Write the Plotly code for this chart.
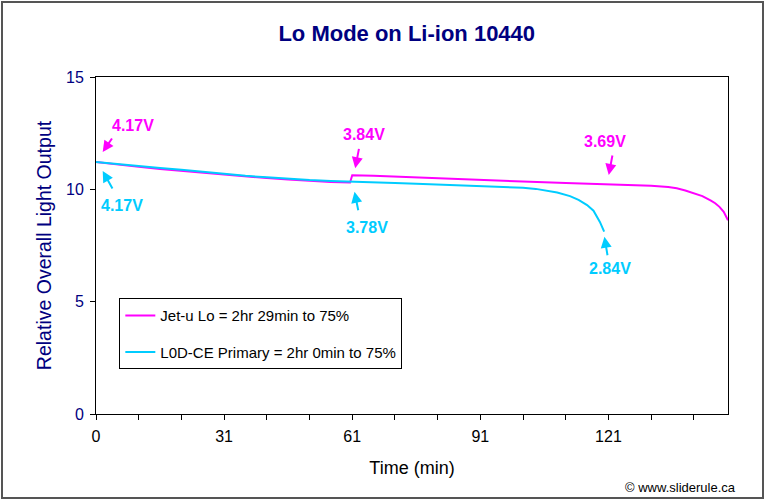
import plotly.graph_objects as go

# ---- data ----
jet_t = [0, 5, 10, 15, 20, 25, 30, 35, 40, 45, 50, 55, 59.5, 60, 65, 70, 75, 80, 85, 90, 95,
         100, 105, 110, 115, 120, 125, 130, 134, 136, 138, 140, 142, 144, 145, 146, 147, 148]
jet_v = [11.22, 11.10, 11.00, 10.91, 10.83, 10.73, 10.64, 10.56, 10.50, 10.44, 10.38, 10.33, 10.30,
         10.63, 10.60, 10.56, 10.52, 10.49, 10.45, 10.41, 10.37, 10.34, 10.31, 10.28, 10.25, 10.22,
         10.19, 10.16, 10.10, 10.05, 9.95, 9.82, 9.70, 9.50, 9.38, 9.22, 9.00, 8.62]

lod_t = [0, 5, 10, 15, 20, 25, 30, 35, 40, 45, 50, 55, 60, 65, 70, 75, 80, 85, 90, 95,
         100, 103, 106, 108, 111, 113, 115, 116.5, 118, 119]
lod_v = [11.22, 11.12, 11.03, 10.95, 10.87, 10.77, 10.68, 10.60, 10.54, 10.47, 10.41, 10.37, 10.33,
         10.31, 10.28, 10.25, 10.22, 10.19, 10.16, 10.13, 10.07, 10.02, 9.93, 9.86, 9.70, 9.53,
         9.30, 9.05, 8.55, 8.12]

series_names = ["Jet-u Lo = 2hr 29min to 75%", "L0D-CE Primary = 2hr 0min to 75%"]
series_colors = ["#FF00FF", "#00CCFF"]

x_tick_vals = [0, 10, 20, 30, 40, 50, 60, 70, 80, 90, 100, 110, 120, 130, 140]
x_tick_text = ["0", "", "", "31", "", "", "61", "", "", "91", "", "", "121", "", ""]
y_tick_vals = [0, 5, 10, 15]

# voltage callouts: label, colour index, text pos (x, y), arrow tail (x, y), arrow head (x, y)
callout_text = ["4.17V", "4.17V", "3.84V", "3.78V", "3.69V", "2.84V"]
callout_color = [0, 1, 0, 1, 0, 1]
callout_text_xy = [(8.67, 12.86), (6.02, 9.27), (62.65, 12.46), (63.44, 8.28), (119.3, 12.12), (120.47, 6.49)]
callout_tail_xy = [(3.98, 12.33), (4.05, 9.97), (61.64, 11.87), (61.48, 9.00), (121.0, 11.57), (119.84, 7.00)]
callout_head_xy = [(1.57, 11.66), (1.57, 10.82), (60.70, 10.94), (60.54, 9.89), (120.07, 10.64), (119.06, 7.89)]

FONT = "Liberation Sans, Arial, sans-serif"
NAVY = "#000080"

fig = go.Figure()
fig.add_trace(go.Scatter(x=jet_t, y=jet_v, mode="lines", name=series_names[0],
                         line=dict(color=series_colors[0], width=2), legendgroup="a"))
fig.add_trace(go.Scatter(x=lod_t, y=lod_v, mode="lines", name=series_names[1],
                         line=dict(color=series_colors[1], width=2), legendgroup="b"))

annotations = []
for txt, ci, (tx, ty), (ax, ay), (hx, hy) in zip(callout_text, callout_color, callout_text_xy,
                                                  callout_tail_xy, callout_head_xy):
    col = series_colors[ci]
    annotations.append(dict(x=tx, y=ty, xref="x", yref="y", text="<b>%s</b>" % txt,
                            showarrow=False, font=dict(family=FONT, size=16, color=col)))
    annotations.append(dict(x=hx, y=hy, ax=ax, ay=ay, xref="x", yref="y", axref="x", ayref="y",
                            text="", showarrow=True, arrowhead=2, arrowsize=1.1, arrowwidth=2,
                            arrowcolor=col))
annotations.append(dict(x=(738 - 96) / 632, y=(414 - 487) / 337, xref="paper", yref="paper",
                        xanchor="right", yanchor="middle", text="© www.sliderule.ca", showarrow=False,
                        font=dict(family=FONT, size=13, color="black")))

fig.update_layout(
    width=766, height=502,
    margin=dict(l=96, r=38, t=77, b=88),
    paper_bgcolor="white", plot_bgcolor="white",
    font=dict(family=FONT, color="black"),
    title=dict(text="<b>Lo Mode on Li-ion 10440</b>", x=0.531, xref="container", xanchor="center",
               y=1 - 33 / 502, yref="container", yanchor="middle",
               font=dict(family=FONT, size=22, color=NAVY)),
    xaxis=dict(range=[0, 148], tickmode="array", tickvals=x_tick_vals, ticktext=x_tick_text,
               ticks="outside", ticklen=5, tickcolor="black", showgrid=False, zeroline=False,
               showline=True, linecolor="black", linewidth=1, mirror=True,
               ticklabelstandoff=3,
               tickfont=dict(family=FONT, size=16, color="black"),
               title=dict(text="Time (min)", font=dict(family=FONT, size=18, color="black"), standoff=17)),
    yaxis=dict(range=[0, 15], tickmode="array", tickvals=y_tick_vals,
               ticks="outside", ticklen=5, tickcolor="black", showgrid=False, zeroline=False,
               showline=True, linecolor="black", linewidth=1, mirror=True,
               ticklabelstandoff=3,
               tickfont=dict(family=FONT, size=16, color=NAVY),
               title=dict(text="Relative Overall Light Output", font=dict(family=FONT, size=19.5, color=NAVY),
                          standoff=9)),
    legend=dict(x=0.0369, y=0.3433, xanchor="left", yanchor="top", bgcolor="white",
                bordercolor="black", borderwidth=1, font=dict(family=FONT, size=15, color="black"),
                traceorder="grouped", tracegroupgap=14, itemwidth=30),
    annotations=annotations,
    shapes=[dict(type="rect", xref="paper", yref="paper",
                 x0=(2 - 96) / 632, x1=(763 - 96) / 632, y0=(414 - 498) / 337, y1=(414 - 2) / 337,
                 line=dict(color="#555555", width=2), fillcolor="rgba(0,0,0,0)", layer="below")],
)

fig.write_html("out.html", config={"displayModeBar": False},
               post_script="document.body.style.margin='0';")
